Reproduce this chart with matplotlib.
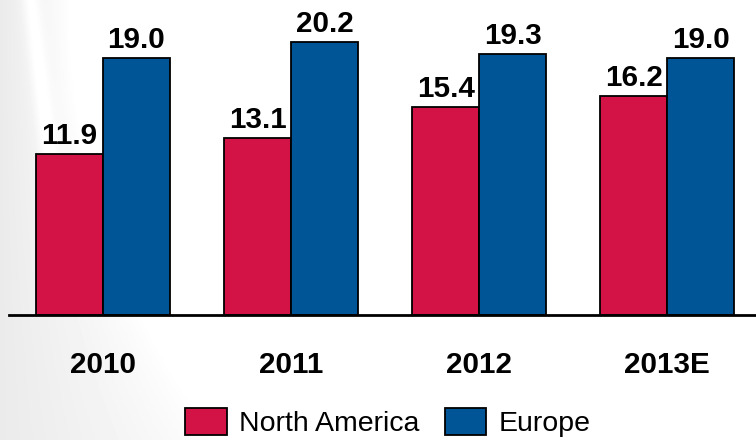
import numpy as np
import matplotlib
matplotlib.use("Agg")
import matplotlib.pyplot as plt
from matplotlib.patches import Patch

plt.rcParams['font.family'] = ['Liberation Sans', 'DejaVu Sans']

years = ["2010", "2011", "2012", "2013E"]
north_america = [11.9, 13.1, 15.4, 16.2]
europe = [19.0, 20.2, 19.3, 19.0]

RED = "#D31245"
BLUE = "#005596"

fig = plt.figure(figsize=(7.56, 4.40), dpi=100)

# soft grey swoosh in the background on the left side
bg = fig.add_axes([0, 0, 1, 1], zorder=0)
H, W = 440, 756
yy, xx = np.mgrid[0:H, 0:W].astype(float)
edge = 70 + 150 * (yy / H) ** 2.2
shade = np.clip(1 - xx / edge, 0, 1) ** 0.8 * 0.08
band = np.exp(-((xx - (30 + 0.12 * yy)) / 9) ** 2) * (yy < 220) * 0.05
val = 1 - np.clip(shade - band, 0, 1)
bg.imshow(val, cmap="gray", vmin=0, vmax=1, extent=[0, W, H, 0], aspect="auto")
bg.axis("off")

ax = fig.add_axes([9 / 756, 125 / 440, 747 / 756, 315 / 440], zorder=1)
ax.patch.set_alpha(0)

x = np.arange(len(years))
w = 0.356
b1 = ax.bar(x - w / 2, north_america, w, color=RED, edgecolor="black", linewidth=1.3, label="North America")
b2 = ax.bar(x + w / 2, europe, w, color=BLUE, edgecolor="black", linewidth=1.3, label="Europe")

for bars, vals in ((b1, north_america), (b2, europe)):
    for rect, v in zip(bars, vals):
        ax.annotate(f"{v:.1f}", (rect.get_x() + rect.get_width() / 2, v),
                    xytext=(0, 7), textcoords="offset points",
                    ha="center", va="baseline", fontsize=21.3, fontweight="bold")

ax.set_xlim(-0.5, 3.473)
ax.set_ylim(0, 23.28)
ax.set_xticks(x)
ax.set_xticklabels(years, fontsize=21.3, fontweight="bold")
ax.tick_params(axis="x", length=0, pad=26)
ax.set_yticks([])
for s in ("top", "right", "left"):
    ax.spines[s].set_visible(False)
ax.spines["bottom"].set_linewidth(2)

handles = [Patch(facecolor=RED, edgecolor="black", linewidth=1.3),
           Patch(facecolor=BLUE, edgecolor="black", linewidth=1.3)]
fig.legend(handles, ["North America", "Europe"], loc="center", bbox_to_anchor=(0.513, 0.039),
           ncol=2, frameon=False, fontsize=20.5, handlelength=1.46, handleheight=1.05,
           handletextpad=0.42, columnspacing=0.9, borderpad=0)

fig.savefig("out.png", dpi=100)
